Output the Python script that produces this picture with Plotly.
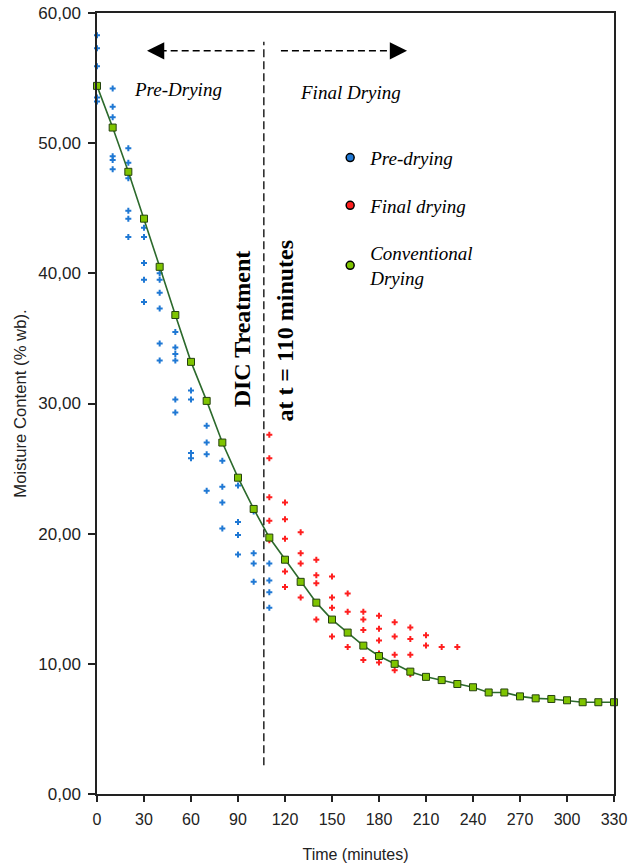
import plotly.graph_objects as go

# ---------------- data ----------------
conv_time = [0, 10, 20, 30, 40, 50, 60, 70, 80, 90, 100, 110, 120, 130, 140, 150, 160,
             170, 180, 190, 200, 210, 220, 230, 240, 250, 260, 270, 280, 290, 300, 310, 320, 330]
conv_mc = [54.4, 51.2, 47.8, 44.2, 40.5, 36.8, 33.2, 30.2, 27.0, 24.3, 21.9, 19.7, 18.0, 16.3,
           14.7, 13.4, 12.4, 11.4, 10.6, 10.0, 9.4, 9.0, 8.75, 8.45, 8.2, 7.8, 7.8, 7.5, 7.35,
           7.3, 7.2, 7.05, 7.05, 7.05]

pre_time = [0, 0, 0, 0, 0,
            10, 10, 10, 10, 10, 10,
            20, 20, 20, 20, 20, 20,
            30, 30, 30, 30, 30,
            40, 40, 40, 40, 40, 40,
            50, 50, 50, 50, 50, 50,
            60, 60, 60, 60,
            70, 70, 70, 70,
            80, 80, 80, 80,
            90, 90, 90, 90,
            100, 100, 100, 100,
            110, 110, 110, 110]
pre_mc = [58.3, 57.3, 55.9, 53.5, 53.2,
          54.2, 52.8, 52.0, 49.0, 48.7, 48.0,
          49.6, 48.5, 47.3, 44.8, 44.2, 42.8,
          43.5, 42.8, 40.8, 39.5, 37.8,
          40.0, 39.5, 38.5, 37.3, 34.6, 33.3,
          35.5, 34.3, 33.8, 33.3, 30.3, 29.3,
          31.0, 30.3, 26.2, 25.8,
          28.3, 27.0, 26.1, 23.3,
          25.6, 23.6, 22.4, 20.4,
          23.7, 20.9, 19.9, 18.4,
          21.7, 18.5, 17.7, 16.3,
          17.7, 16.4, 15.5, 14.3]

final_time = [110, 110, 110, 110, 110,
              120, 120, 120, 120, 120,
              130, 130, 130, 130,
              140, 140, 140, 140,
              150, 150, 150, 150,
              160, 160, 160,
              170, 170, 170, 170,
              180, 180, 180, 180, 180,
              190, 190, 190, 190,
              200, 200, 200, 200,
              210, 210,
              220,
              230]
final_mc = [27.6, 25.8, 22.8, 21.0, 19.5,
            22.4, 21.1, 19.6, 17.1, 15.9,
            20.1, 18.5, 17.7, 15.1,
            18.0, 16.8, 16.2, 13.4,
            16.7, 15.1, 14.3, 12.1,
            15.4, 14.0, 11.3,
            14.0, 13.4, 12.6, 10.3,
            13.7, 12.7, 11.8, 10.8, 10.1,
            13.2, 12.1, 10.7, 9.5,
            12.8, 11.9, 10.7, 9.2,
            12.2, 11.4,
            11.3,
            11.3]

x_ticks = [0, 30, 60, 90, 120, 150, 180, 210, 240, 270, 300, 330]
y_ticks = [0, 10, 20, 30, 40, 50, 60]
legend_names = ["Pre-drying", "Final drying", "Conventional<br>Drying"]

# annotation anchors (data units)
DIC_T = 106.5
ARROW_Y = 57.1

BLUE = "#1f78d4"
RED = "#ff1f1f"
GREEN_FILL = "#7fc400"
GREEN_LINE = "#2c6a2c"
SERIF = "Liberation Serif, Times New Roman, serif"
SANS = "Liberation Sans, Arial, sans-serif"

fig = go.Figure()

fig.add_trace(go.Scatter(x=pre_time, y=pre_mc, mode="markers", showlegend=False,
                         marker=dict(symbol="cross", size=5, color=BLUE, line=dict(width=0)),
                         cliponaxis=False))
fig.add_trace(go.Scatter(x=final_time, y=final_mc, mode="markers", showlegend=False,
                         marker=dict(symbol="cross", size=5, color=RED, line=dict(width=0)),
                         cliponaxis=False))
fig.add_trace(go.Scatter(x=conv_time, y=conv_mc, mode="lines+markers", showlegend=False,
                         line=dict(color=GREEN_LINE, width=1.6),
                         marker=dict(symbol="square", size=7, color=GREEN_FILL,
                                     line=dict(color="#24420e", width=1)),
                         cliponaxis=False))

# legend-only entries
for name, col, grp in zip(legend_names, [BLUE, RED, GREEN_FILL], ["a", "b", "c"]):
    fig.add_trace(go.Scatter(x=[None], y=[None], mode="markers", name=f"<i>{name}</i>",
                             legendgroup=grp,
                             marker=dict(symbol="circle", size=8, color=col,
                                         line=dict(color="black", width=1.5))))

# vertical dashed DIC line
fig.add_shape(type="line", xref="x", yref="y", x0=DIC_T, x1=DIC_T, y0=2.2, y1=57.8,
              line=dict(color="black", width=1.3, dash="8px,4px"))
# horizontal dashed arrows
fig.add_shape(type="line", xref="x", yref="y", x0=40, x1=101.5, y0=ARROW_Y, y1=ARROW_Y,
              line=dict(color="black", width=1.5, dash="7px,4px"))
fig.add_shape(type="line", xref="x", yref="y", x0=117.4, x1=190, y0=ARROW_Y, y1=ARROW_Y,
              line=dict(color="black", width=1.5, dash="7px,4px"))
fig.add_annotation(x=31.9, y=ARROW_Y, xref="x", yref="y", text="", showarrow=True,
                   ax=16, ay=0, axref="pixel", ayref="pixel", arrowhead=2,
                   arrowsize=2.3, arrowwidth=1.5, arrowcolor="black")
fig.add_annotation(x=197.9, y=ARROW_Y, xref="x", yref="y", text="", showarrow=True,
                   ax=-16, ay=0, axref="pixel", ayref="pixel", arrowhead=2,
                   arrowsize=2.3, arrowwidth=1.5, arrowcolor="black")

fig.add_annotation(x=52, y=54.1, xref="x", yref="y", text="<i>Pre-Drying</i>", showarrow=False,
                   font=dict(family=SERIF, size=19, color="black"))
fig.add_annotation(x=162, y=53.9, xref="x", yref="y", text="<i>Final Drying</i>", showarrow=False,
                   font=dict(family=SERIF, size=19, color="black"))
fig.add_annotation(x=92.6, y=35.7, xref="x", yref="y", text="<b>DIC Treatment</b>",
                   showarrow=False, textangle=-90,
                   font=dict(family=SERIF, size=24, color="black"))
fig.add_annotation(x=120.0, y=35.6, xref="x", yref="y", text="<b>at t = 110 minutes</b>",
                   showarrow=False, textangle=-90,
                   font=dict(family=SERIF, size=24, color="black"))

fig.update_layout(
    width=631, height=866,
    margin=dict(l=97, r=17, t=13, b=72, autoexpand=False),
    paper_bgcolor="white", plot_bgcolor="white",
    separators=",.",
    showlegend=True,
    legend=dict(x=0.451, y=0.839, xanchor="left", yanchor="top",
                traceorder="grouped", tracegroupgap=20,
                bgcolor="rgba(0,0,0,0)", borderwidth=0,
                font=dict(family=SERIF, size=19, color="black"),
                itemwidth=30),
    xaxis=dict(range=[0, 330], tickvals=x_ticks, ticks="outside", ticklen=6,
               tickwidth=1.5, tickcolor="#222", showline=True, linecolor="#222",
               linewidth=1.5, mirror=True, showgrid=False, zeroline=False,
               automargin=False, ticklabelstandoff=4, ticklabeloverflow="allow",
               tickfont=dict(family=SANS, size=16, color="#222"),
               title=dict(text="Time (minutes)", font=dict(family=SANS, size=16, color="#222"),
                          standoff=22)),
    yaxis=dict(range=[0, 60], tickvals=y_ticks, tickformat=".2f", ticks="outside", ticklen=7,
               tickwidth=1.5, tickcolor="#222", showline=True, linecolor="#222",
               linewidth=1.5, mirror=True, showgrid=False, zeroline=False,
               automargin=False, ticklabeloverflow="allow",
               tickfont=dict(family=SANS, size=17, color="#222"),
               ticklabelstandoff=4,
               title=dict(text="Moisture Content (% wb).",
                          font=dict(family=SANS, size=16.7, color="#222"), standoff=7)),
)

fig.write_html("out.html", config={"displayModeBar": False},
               post_script="document.body.style.margin='0';")
